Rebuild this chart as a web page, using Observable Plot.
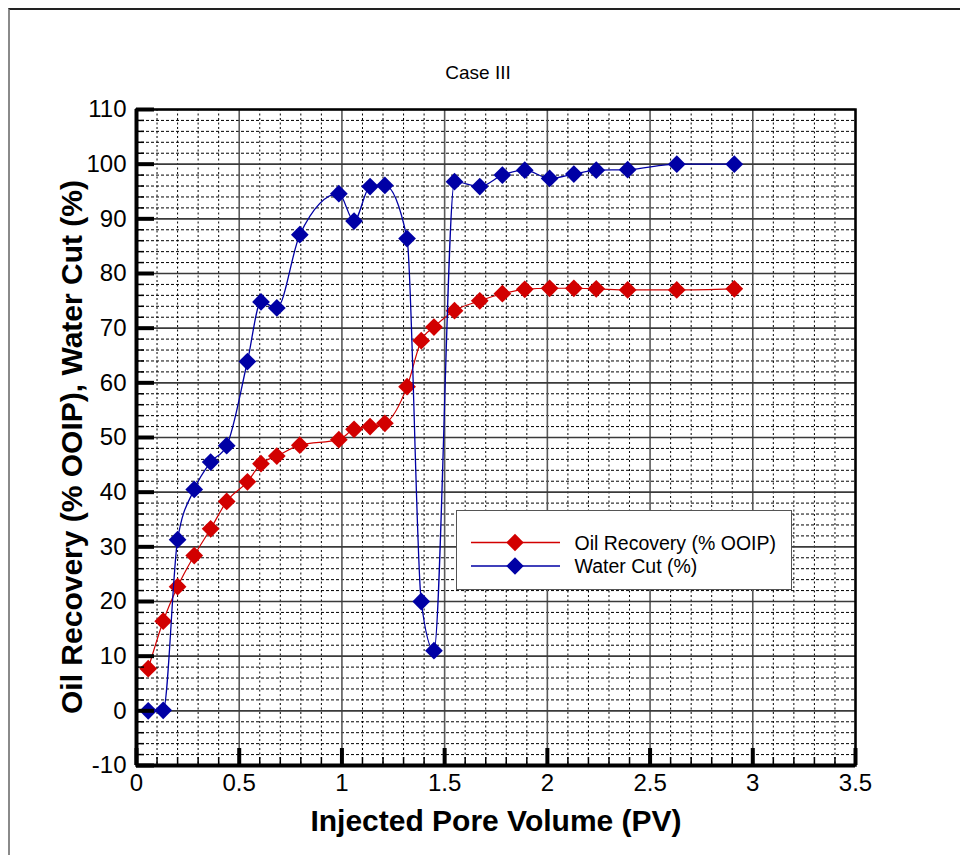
<!DOCTYPE html>
<html>
<head>
<meta charset="utf-8">
<script src="https://cdn.jsdelivr.net/npm/d3@7"></script>
<script src="https://cdn.jsdelivr.net/npm/@observablehq/plot@0.6"></script>
<style>
  html, body { margin: 0; padding: 0; background: #fff; }
  #wrap { position: relative; width: 960px; height: 855px; overflow: hidden; font-family: "Liberation Sans", Arial, sans-serif; color: #000; }
  #pageborder { position: absolute; left: 8px; top: 8px; width: 980px; height: 900px; border-left: 2px solid #8a8a8a; border-top: 2px solid #222; box-sizing: border-box; }
  #chart { position: absolute; left: 0; top: 0; }
  #title { position: absolute; left: 0; width: 956px; top: 63px; text-align: center; font-size: 19px; line-height: 19px; white-space: nowrap; }
  #xlabel { position: absolute; left: 0; width: 992px; top: 806px; text-align: center; font-size: 30px; line-height: 30px; font-weight: bold; white-space: nowrap; }
  #ylabel { position: absolute; left: 72px; top: 447px; transform: translate(-50%, -50%) rotate(-90deg); font-size: 30px; line-height: 30px; font-weight: bold; white-space: nowrap; }
  #legend { position: absolute; left: 456px; top: 510px; width: 336px; height: 80px; box-sizing: border-box; border: 1.5px solid #555; background: #fff; }
  #legend svg { position: absolute; left: -1.5px; top: -1.5px; }
</style>
</head>
<body>
<div id="wrap">
  <div id="pageborder"></div>
  <div id="chart"></div>
  <div id="title"></div>
  <div id="xlabel"></div>
  <div id="ylabel"></div>
  <div id="legend"></div>
</div>
<script>
// ---- data ----
const pv = [0.057, 0.130, 0.200, 0.281, 0.361, 0.439, 0.540, 0.606, 0.683, 0.795, 0.985, 1.059, 1.137, 1.209, 1.317, 1.386, 1.448, 1.548, 1.671, 1.781, 1.890, 2.011, 2.129, 2.238, 2.391, 2.630, 2.910];
const oilRecovery = [7.7, 16.4, 22.7, 28.4, 33.3, 38.3, 41.9, 45.2, 46.6, 48.6, 49.6, 51.5, 52.0, 52.6, 59.3, 67.7, 70.2, 73.2, 75.0, 76.3, 77.1, 77.3, 77.3, 77.2, 77.0, 77.0, 77.2];
const waterCut = [0.0, 0.1, 31.3, 40.5, 45.5, 48.5, 63.9, 74.8, 73.7, 87.1, 94.6, 89.6, 95.9, 96.1, 86.4, 20.0, 11.0, 96.8, 95.9, 98.0, 98.9, 97.4, 98.2, 98.9, 99.0, 100.0, 100.0];
const seriesNames = ["Oil Recovery (% OOIP)", "Water Cut (%)"];
const seriesColors = ["#d20000", "#0000a5"];
const xMajorTicks = [0, 0.5, 1, 1.5, 2, 2.5, 3, 3.5];
const yMajorTicks = [-10, 0, 10, 20, 30, 40, 50, 60, 70, 80, 90, 100, 110];
const titleText = "Case III";
const xLabelText = "Injected Pore Volume (PV)";
const yLabelText = "Oil Recovery (% OOIP), Water Cut (%)";

// minor grid positions (every 0.1 in x, every 2 in y)
const xMinorTicks = d3.range(0, 36).filter(i => i % 5 !== 0).map(i => i / 10);
const yMinorTicks = d3.range(-10, 111, 2).filter(v => v % 10 !== 0);

const oilRows = pv.map((x, i) => ({x, y: oilRecovery[i], series: seriesNames[0]}));
const waterRows = pv.map((x, i) => ({x, y: waterCut[i], series: seriesNames[1]}));

const xDomain = [xMajorTicks[0], xMajorTicks[xMajorTicks.length - 1]];
const yDomain = [yMajorTicks[0], yMajorTicks[yMajorTicks.length - 1]];

const chart = Plot.plot({
  width: 960,
  height: 855,
  marginLeft: 136,
  marginRight: 105,
  marginTop: 109,
  marginBottom: 90,
  style: {fontFamily: "Liberation Sans, Arial, sans-serif", fontSize: "24px", color: "#000", background: "transparent"},
  x: {domain: xDomain},
  y: {domain: yDomain},
  marks: [
    // minor dotted grid
    Plot.ruleX(xMinorTicks, {stroke: "#000", strokeWidth: 1, strokeDasharray: "2,2.5"}),
    Plot.ruleY(yMinorTicks, {stroke: "#000", strokeWidth: 1, strokeDasharray: "3,2"}),
    // major solid grid
    Plot.ruleX(xMajorTicks, {stroke: "#5a5a5a", strokeWidth: 1.6}),
    Plot.ruleY(yMajorTicks, {stroke: "#3a3a3a", strokeWidth: 1.6}),
    // series
    Plot.line(oilRows, {x: "x", y: "y", stroke: seriesColors[0], strokeWidth: 1.2, curve: "monotone-x"}),
    Plot.dot(oilRows, {x: "x", y: "y", symbol: "diamond2", r: 8, fill: seriesColors[0], stroke: null}),
    Plot.line(waterRows, {x: "x", y: "y", stroke: seriesColors[1], strokeWidth: 1.3, curve: "monotone-x"}),
    Plot.dot(waterRows, {x: "x", y: "y", symbol: "diamond2", r: 8, fill: seriesColors[1], stroke: null}),
    // frame
    Plot.frame({stroke: "#000", strokeWidth: 2.5}),
    Plot.ruleX([xDomain[0]], {stroke: "#000", strokeWidth: 4}),
    Plot.ruleY([yDomain[0]], {stroke: "#000", strokeWidth: 4}),
    // inward ticks
    Plot.axisX(xMajorTicks, {anchor: "bottom", tickSize: -17, strokeWidth: 4, tickFormat: () => "", label: null}),
    Plot.axisX(xMinorTicks, {anchor: "bottom", tickSize: -8, strokeWidth: 1.5, tickFormat: () => "", label: null}),
    Plot.axisY(yMajorTicks, {anchor: "left", tickSize: -18, strokeWidth: 4, tickFormat: () => "", label: null}),
    Plot.axisY(yMinorTicks, {anchor: "left", tickSize: -8, strokeWidth: 1.5, tickFormat: () => "", label: null}),
    // tick labels
    Plot.axisX(xMajorTicks, {anchor: "bottom", tickSize: 0, tickPadding: 8, tickFormat: d => String(d), fontSize: 24, label: null}),
    Plot.axisY(yMajorTicks, {anchor: "left", tickSize: 0, tickPadding: 10, tickFormat: d => String(d), fontSize: 24, label: null})
  ]
});
document.getElementById("chart").appendChild(chart);

document.getElementById("title").textContent = titleText;
document.getElementById("xlabel").textContent = xLabelText;
document.getElementById("ylabel").textContent = yLabelText;

// legend
const lg = d3.select("#legend").append("svg").attr("width", 336).attr("height", 80);
const rowsY = [32.5, 56];
seriesNames.forEach((name, i) => {
  const g = lg.append("g").attr("transform", `translate(0,${rowsY[i]})`);
  g.append("line").attr("x1", 15).attr("x2", 104).attr("y1", 0).attr("y2", 0)
    .attr("stroke", seriesColors[i]).attr("stroke-width", 1.4);
  g.append("path").attr("d", "M59,-8.7L67.7,0L59,8.7L50.3,0Z").attr("fill", seriesColors[i]);
  g.append("text").attr("x", 118.5).attr("y", 7).attr("font-size", 19.5)
    .attr("font-family", "Liberation Sans, Arial, sans-serif").attr("fill", "#000").text(name);
});
</script>
</body>
</html>
